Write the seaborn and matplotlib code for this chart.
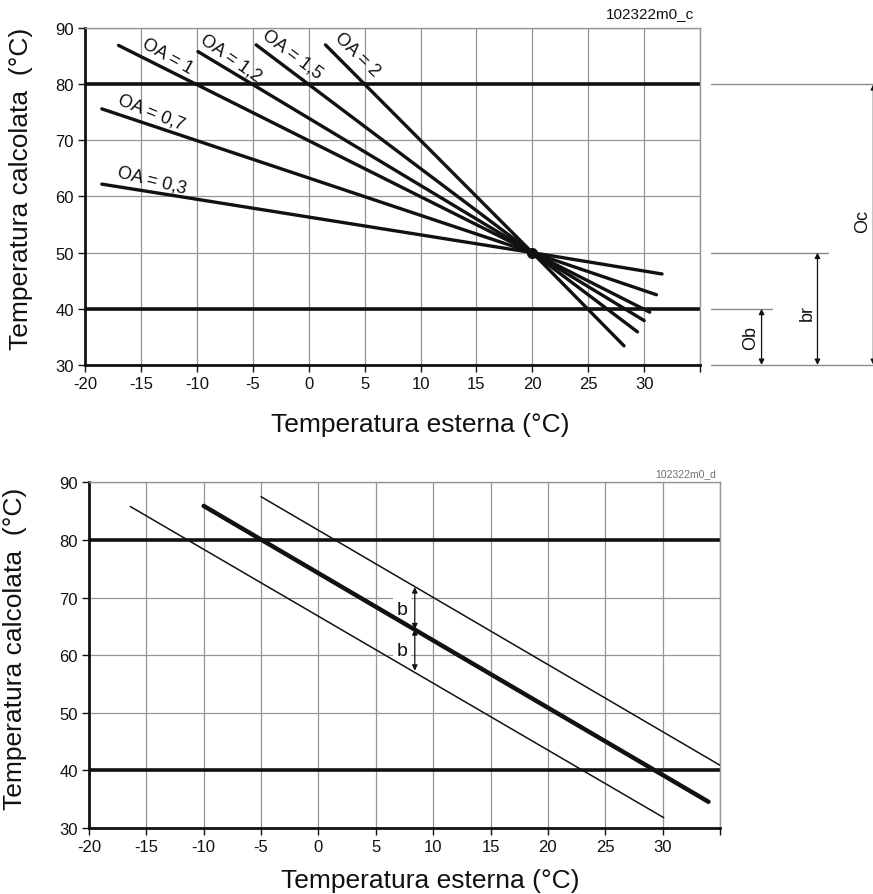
import pandas as pd
import seaborn as sns
import matplotlib.pyplot as plt

## top chart: OA curves, all through the pivot point
oa_labels = ["OA = 0,3", "OA = 0,7", "OA = 1", "OA = 1,2", "OA = 1,5", "OA = 2"]
oa_x_start = [-18.5, -18.5, -17.0, -9.9, -4.7, 1.5]
oa_y_start = [62.2, 75.6, 86.9, 85.8, 87.0, 87.0]
oa_x_end = [31.6, 31.1, 30.5, 30.0, 29.4, 28.2]
oa_y_end = [46.2, 42.5, 39.4, 37.9, 35.9, 33.4]
pivot_x = 20
pivot_y = 50

## bottom chart: base curve and parallel shifted curves
shift_names = ["lower", "base", "upper"]
shift_x_start = [-16.4, -10.0, -5.0]
shift_y_start = [85.8, 85.9, 87.5]
shift_x_end = [30.1, 34.0, 35.0]
shift_y_end = [31.8, 34.55, 40.9]
b_x = 8.4
b_levels = [57.3, 64.5, 71.8]

## limits
limit_high = 80
limit_low = 40

rows = []
for i, name in enumerate(oa_labels):
    rows.append((name, oa_x_start[i], oa_y_start[i]))
    rows.append((name, pivot_x, pivot_y))
    rows.append((name, oa_x_end[i], oa_y_end[i]))
df_oa = pd.DataFrame(rows, columns=["curve", "x", "y"])

rows = []
for i, name in enumerate(shift_names):
    rows.append((name, shift_x_start[i], shift_y_start[i]))
    rows.append((name, shift_x_end[i], shift_y_end[i]))
df_shift = pd.DataFrame(rows, columns=["curve", "x", "y"])

sns.set_theme(style="ticks")
plt.rcParams['font.family'] = ['Liberation Sans', 'DejaVu Sans']

fig = plt.figure(figsize=(8.73, 8.95), dpi=100)
ax1 = fig.add_axes([0.0974, 0.5911, 0.7045, 0.3765])
ax2 = fig.add_axes([0.1019, 0.0737, 0.7228, 0.3863])


def style_axes(ax):
    ax.set_xlim(-20, 35)
    ax.set_ylim(30, 90)
    ax.set_xticks(range(-20, 40, 5))
    ax.set_xticklabels([str(v) for v in range(-20, 35, 5)] + [""])
    ax.set_yticks(range(30, 100, 10))
    ax.grid(True, color="#959595", lw=0.9)
    ax.axhline(limit_high, color="#111111", lw=2.6, zorder=2)
    ax.axhline(limit_low, color="#111111", lw=2.6, zorder=2)
    for s in ["left", "bottom"]:
        ax.spines[s].set_color("#111111")
        ax.spines[s].set_linewidth(2.0)
    for s in ["top", "right"]:
        ax.spines[s].set_color("#959595")
        ax.spines[s].set_linewidth(1.0)
    ax.tick_params(length=5, width=1, labelsize=12, pad=3, colors="#111111")
    ax.set_xlabel("")
    ax.set_ylabel("")


## top chart
sns.lineplot(data=df_oa, x="x", y="y", units="curve", estimator=None,
             color="#111111", lw=2.4, sort=False, ax=ax1, zorder=3)
ax1.plot(pivot_x, pivot_y, "o", ms=7, color="#111111", zorder=4)
style_axes(ax1)

oa_lab_x = [-14.0, -14.1, -12.6, -7.0, -1.5, 4.3]
oa_lab_y = [62.9, 75.1, 85.1, 84.8, 85.4, 85.4]
oa_lab_rot = [-14, -22, -29.5, -35, -37, -44]
for i, name in enumerate(oa_labels):
    ax1.text(oa_lab_x[i], oa_lab_y[i], name, rotation=oa_lab_rot[i],
             rotation_mode="anchor", ha="center", va="center", fontsize=13,
             color="#111111")

ax1.text(34.5, 91.5, "102322m0_c", ha="right", va="bottom", fontsize=11,
         color="#111111")

## dimension marks right of the top chart
for lev, x_end in [(80, 50.8), (50, 46.4), (40, 41.4), (30, 50.8)]:
    ax1.plot([36, x_end], [lev, lev], color="#8c8c8c", lw=1.0, clip_on=False)
for top, xa, name, ly in [(80, 50.5, "Oc", 55.7), (50, 45.5, "br", 39.4), (40, 40.5, "Ob", 34.9)]:
    ax1.annotate("", xy=(xa, top), xytext=(xa, 30), annotation_clip=False,
                 arrowprops=dict(arrowstyle="<|-|>", color="#111111", lw=0.9,
                                 mutation_scale=8, shrinkA=0, shrinkB=0))
    ax1.text(xa - 0.95, ly, name, rotation=90, ha="center", va="center",
             fontsize=13, color="#111111", clip_on=False)

## bottom chart
for name, lw in [("lower", 1.1), ("base", 3.2), ("upper", 1.1)]:
    sns.lineplot(data=df_shift[df_shift["curve"] == name], x="x", y="y",
                 color="#111111", lw=lw, ax=ax2, zorder=3)
style_axes(ax2)

for y0, y1 in [(b_levels[1], b_levels[2]), (b_levels[1], b_levels[0])]:
    ax2.annotate("", xy=(b_x, y1), xytext=(b_x, y0), zorder=4,
                 arrowprops=dict(arrowstyle="<|-|>", color="#111111", lw=0.9,
                                 mutation_scale=8, shrinkA=0, shrinkB=0))
for yb in [68.0, 60.8]:
    ax2.text(7.27, yb, "b", ha="center", va="center", fontsize=14, color="#111111",
             bbox=dict(facecolor="white", edgecolor="none", pad=2.5), zorder=1.5)

ax2.text(34.7, 90.8, "102322m0_d", ha="right", va="bottom", fontsize=7.5,
         color="#707070")

## axis titles
fig.text(21.5 / 873, 1 - 189 / 895, "Temperatura calcolata  (°C)", rotation=90,
         ha="center", va="center", fontsize=19, color="#111111")
fig.text(15 / 873, 1 - 649 / 895, "Temperatura calcolata  (°C)", rotation=90,
         ha="center", va="center", fontsize=19, color="#111111")
fig.text(420 / 873, 1 - 432 / 895, "Temperatura esterna (°C)",
         ha="center", va="baseline", fontsize=19, color="#111111")
fig.text(430 / 873, 1 - 888 / 895, "Temperatura esterna (°C)",
         ha="center", va="baseline", fontsize=19, color="#111111")

fig.savefig("out.png", dpi=100)
